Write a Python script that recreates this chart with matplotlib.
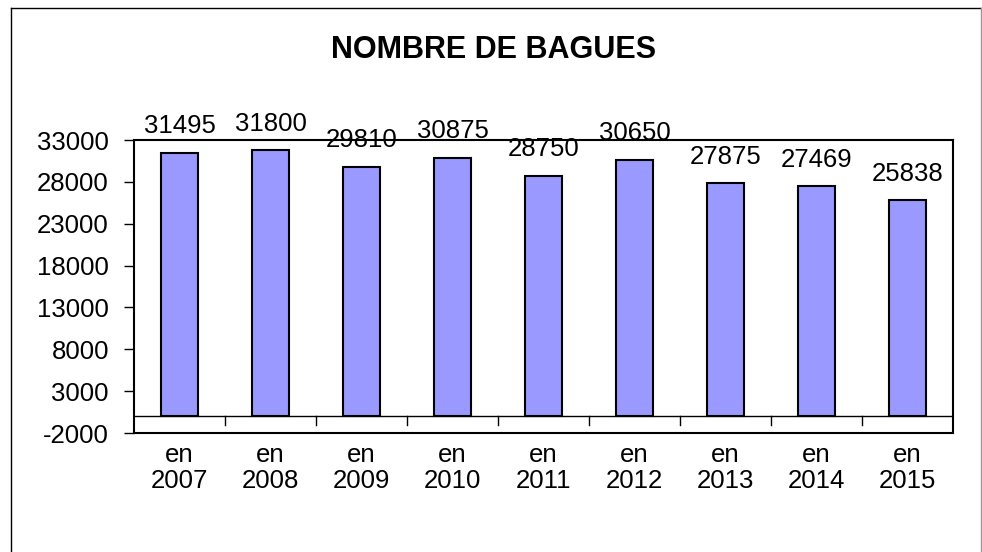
import matplotlib.pyplot as plt
from matplotlib.lines import Line2D

plt.rcParams['font.family'] = ['Liberation Sans', 'DejaVu Sans']

years = ['2007', '2008', '2009', '2010', '2011', '2012', '2013', '2014', '2015']
bagues = [31495, 31800, 29810, 30875, 28750, 30650, 27875, 27469, 25838]
yticks = [-2000, 3000, 8000, 13000, 18000, 23000, 28000, 33000]

fig = plt.figure(figsize=(9.82, 5.52), dpi=100)
ax = fig.add_axes([134/982, 1 - 433/552, 819/982, 293/552])

x = list(range(len(years)))
ax.bar(x, bagues, width=0.41, color='#9999FF', edgecolor='black', linewidth=1.5, zorder=3)
ax.axhline(0, color='black', linewidth=1, zorder=2)

for xi, v in zip(x, bagues):
    ax.annotate(str(v), (xi, v), xytext=(0, 19), textcoords='offset points',
                ha='center', va='center', fontsize=18.5, zorder=4, annotation_clip=False)

ax.set_xlim(-0.5, len(years) - 0.5)
ax.set_ylim(-2000, 33000)
ax.set_yticks(yticks)
ax.set_yticklabels([str(t) for t in yticks], fontsize=18.5)
ax.tick_params(axis='y', direction='out', length=7, width=1, pad=11)

# category labels below the axes, tick marks on the zero line between categories
ax.set_xticks(x)
ax.set_xticklabels(['en\n' + y for y in years], fontsize=18.5, linespacing=1.1)
ax.tick_params(axis='x', length=0, pad=7)
for b in range(1, len(years)):
    ax.plot([b - 0.5, b - 0.5], [0, -1000], color='black', linewidth=1, zorder=2)

for s in ax.spines.values():
    s.set_linewidth(1.5)

fig.text(494/982, 1 - 50/552, 'NOMBRE DE BAGUES', ha='center', va='center',
         fontsize=22, fontweight='bold')

# outer frame (top/left dark, right grey, bottom off the picture)
fig.add_artist(Line2D([11/982, 11/982], [0, 1 - 8/552], transform=fig.transFigure,
                      color='black', linewidth=1))
fig.add_artist(Line2D([11/982, 981/982], [1 - 8/552, 1 - 8/552], transform=fig.transFigure,
                      color='black', linewidth=1))
fig.add_artist(Line2D([980.5/982, 980.5/982], [0, 1 - 8/552], transform=fig.transFigure,
                      color='#999999', linewidth=1))

fig.savefig('out.png', dpi=100)
